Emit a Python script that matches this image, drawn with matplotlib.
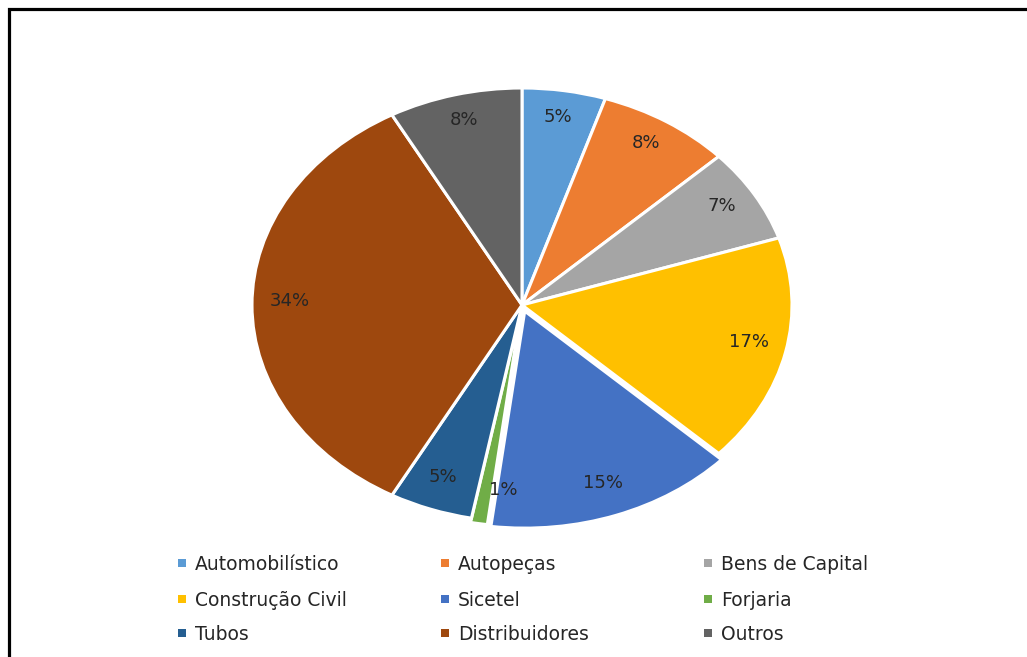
import matplotlib
matplotlib.use("Agg")
import matplotlib.pyplot as plt
from matplotlib.lines import Line2D
from matplotlib.patches import Rectangle
from matplotlib.transforms import offset_copy

categories = ["Automobilístico", "Autopeças", "Bens de Capital", "Construção Civil",
              "Sicetel", "Forjaria", "Tubos", "Distribuidores", "Outros"]
values = [5, 8, 7, 17, 15, 1, 5, 34, 8]
colors = ["#5B9BD5", "#ED7D31", "#A5A5A5", "#FFC000", "#4472C4",
          "#70AD47", "#255E91", "#9E480E", "#636363"]
explode = [0, 0, 0, 0, 0.03, 0.02, 0, 0, 0]

plt.rcParams['font.family'] = ['DejaVu Sans']

W, H = 1027, 657
fig = plt.figure(figsize=(W / 100, H / 100), dpi=100)

cx, cy = 522, 305
rx, ry = 270, 217
lim = 1.1
aw, ah = 2 * lim * rx, 2 * lim * ry
ax = fig.add_axes([(cx - aw / 2) / W, (H - cy - ah / 2) / H, aw / W, ah / H])

wedges, texts, autotexts = ax.pie(
    values, colors=colors, startangle=90, counterclock=False, explode=explode,
    autopct='%1.0f%%', pctdistance=0.86,
    wedgeprops=dict(edgecolor='white', linewidth=2.2),
    textprops=dict(fontsize=13, color='#262626'))
ax.set_xlim(-lim, lim)
ax.set_ylim(-lim, lim)
ax.set_aspect('auto')
ax.axis('off')

# Excel-like label placement: slightly raised; tiny slice label nudged right
for i, t in enumerate(autotexts):
    dx = 18 if values[i] <= 1 else 0
    t.set_transform(offset_copy(ax.transData, fig, x=dx, y=4, units='dots'))

# legend (3 columns, row-major order), placed in pixel coordinates
col_x = [178, 441, 704]
row_y = [563, 599, 633]
sq = 8
for i, (lab, col) in enumerate(zip(categories, colors)):
    r, c = divmod(i, 3)
    x0, y0 = col_x[c], row_y[r]
    fig.add_artist(Rectangle((x0 / W, (H - y0 - sq / 2) / H), sq / W, sq / H,
                             transform=fig.transFigure, facecolor=col,
                             edgecolor='none'))
    fig.text((x0 + 17) / W, (H - y0) / H, lab, fontsize=13.5, color='#262626',
             ha='left', va='center_baseline')

# chart frame (left and top edge)
fig.add_artist(Line2D([9 / W, 9 / W, 1.0], [0, 1 - 9 / H, 1 - 9 / H],
                      transform=fig.transFigure, color='black', linewidth=2.3,
                      solid_joinstyle='miter'))

fig.savefig("out.png", dpi=100, facecolor='white')
